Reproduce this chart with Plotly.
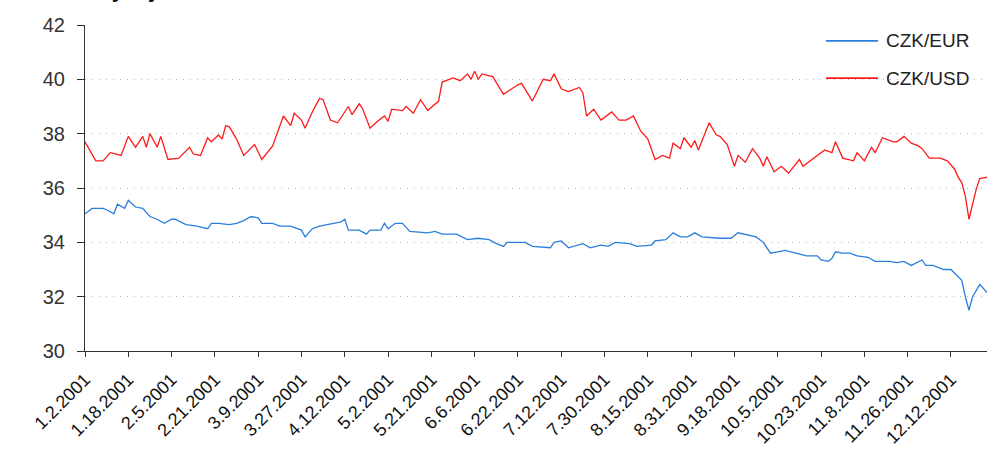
import plotly.graph_objects as go

# Trading-day index (0 = 1.2.2001) for each read point, and values
usd_idx = [0, 3, 5, 7, 10, 12, 14, 16, 17, 18, 20, 21, 23, 26, 29, 30, 32, 34, 35, 37, 38, 39, 40, 42, 44,
           47, 49, 52, 55, 57, 58, 60, 61, 63, 65, 66, 68, 70, 73, 74, 76, 77, 79, 81, 83, 84, 85, 88, 89,
           91, 93, 95, 98, 99, 102, 104, 106, 107, 108, 109, 110, 113, 116, 120, 121, 124, 127, 129, 130,
           132, 134, 137, 138, 139, 141, 143, 146, 148, 150, 152, 154, 156, 158, 160, 162, 163, 165, 166,
           168, 169, 170, 173, 175, 176, 178, 180, 181, 183, 185, 187, 188, 189, 191, 193, 195, 198, 199,
           202, 205, 207, 208, 210, 213, 214, 216, 218, 219, 221, 224, 225, 227, 229, 231, 232, 234, 237,
           239, 241, 242, 243, 244, 245, 246, 247, 248, 250]
usd_val = [37.7, 37.0, 37.0, 37.3, 37.2, 37.9, 37.5, 37.9, 37.5, 38.0, 37.5, 37.9, 37.05, 37.1, 37.5, 37.25,
           37.2, 37.85, 37.7, 37.95, 37.8, 38.3, 38.25, 37.8, 37.2, 37.6, 37.05, 37.55, 38.65, 38.3, 38.75,
           38.5, 38.2, 38.8, 39.3, 39.25, 38.5, 38.4, 39.0, 38.7, 39.1, 38.9, 38.2, 38.45, 38.65, 38.45,
           38.9, 38.85, 39.0, 38.75, 39.25, 38.85, 39.2, 39.9, 40.05, 39.95, 40.2, 40.0, 40.3, 40.0, 40.2,
           40.1, 39.45, 39.8, 39.85, 39.2, 40.0, 39.95, 40.2, 39.65, 39.55, 39.7, 39.5, 38.65, 38.9, 38.5,
           38.8, 38.5, 38.5, 38.65, 38.1, 37.8, 37.05, 37.2, 37.1, 37.65, 37.45, 37.85, 37.5, 37.75, 37.4,
           38.4, 37.95, 37.9, 37.6, 36.8, 37.2, 36.95, 37.45, 37.1, 36.8, 37.15, 36.6, 36.8, 36.55, 37.05,
           36.8, 37.1, 37.4, 37.3, 37.7, 37.1, 37.0, 37.3, 37.0, 37.5, 37.3, 37.85, 37.7, 37.7, 37.9,
           37.65, 37.55, 37.45, 37.1, 37.1, 37.0, 36.7, 36.4, 36.2, 35.7, 34.85, 35.4, 35.95, 36.35, 36.4]

eur_idx = [0, 2, 5, 6, 8, 9, 11, 12, 14, 16, 18, 20, 22, 24, 25, 28, 31, 34, 35, 37, 40, 42, 44, 46, 48,
           49, 52, 54, 57, 60, 61, 63, 65, 67, 69, 71, 72, 73, 76, 78, 79, 82, 83, 84, 86, 88, 90, 95, 97,
           99, 103, 106, 109, 112, 114, 116, 117, 120, 122, 124, 129, 130, 132, 134, 138, 140, 143, 145,
           147, 151, 153, 157, 158, 161, 163, 165, 167, 169, 171, 176, 179, 181, 183, 186, 188, 190, 192,
           194, 197, 200, 203, 204, 206, 207, 208, 210, 212, 214, 217, 219, 223, 225, 227, 229, 232, 233,
           235, 238, 240, 242, 243, 244, 245, 246, 248, 250]
eur_val = [35.05, 35.25, 35.25, 35.2, 35.05, 35.4, 35.25, 35.55, 35.3, 35.25, 34.95, 34.85, 34.7, 34.85,
           34.85, 34.65, 34.6, 34.5, 34.7, 34.7, 34.65, 34.7, 34.8, 34.95, 34.9, 34.7, 34.7, 34.6, 34.6,
           34.45, 34.2, 34.5, 34.6, 34.65, 34.7, 34.75, 34.85, 34.45, 34.45, 34.3, 34.45, 34.45, 34.7,
           34.5, 34.7, 34.7, 34.4, 34.35, 34.4, 34.3, 34.3, 34.1, 34.15, 34.1, 33.95, 33.85, 34.0, 34.0,
           34.0, 33.85, 33.8, 34.0, 34.05, 33.8, 33.95, 33.8, 33.9, 33.85, 34.0, 33.95, 33.85, 33.9, 34.05,
           34.1, 34.35, 34.2, 34.2, 34.35, 34.2, 34.15, 34.15, 34.35, 34.3, 34.2, 34.0, 33.6, 33.65, 33.7,
           33.6, 33.5, 33.5, 33.35, 33.3, 33.4, 33.65, 33.6, 33.6, 33.5, 33.45, 33.3, 33.3, 33.25, 33.3,
           33.15, 33.35, 33.15, 33.15, 33.0, 33.0, 32.75, 32.6, 32.0, 31.5, 32.0, 32.45, 32.15]

tick_idx = [0, 12, 24, 36, 48, 60, 72, 84, 96, 108, 120, 132, 144, 156, 168, 180, 192, 204, 216, 228, 240]
tick_text = ["1.2.2001", "1.18.2001", "2.5.2001", "2.21.2001", "3.9.2001", "3.27.2001", "4.12.2001",
             "5.2.2001", "5.21.2001", "6.6.2001", "6.22.2001", "7.12.2001", "7.30.2001", "8.15.2001",
             "8.31.2001", "9.18.2001", "10.5.2001", "10.23.2001", "11.8.2001", "11.26.2001", "12.12.2001"]

series_names = ["CZK/EUR", "CZK/USD"]
colors = ["#2a7fdc", "#ff1a1a"]

FONT = "Liberation Sans, Arial, sans-serif"

fig = go.Figure()
fig.add_trace(go.Scatter(x=eur_idx, y=eur_val, mode="lines", name=series_names[0],
                         line=dict(color=colors[0], width=1.3), showlegend=False))
fig.add_trace(go.Scatter(x=usd_idx, y=usd_val, mode="lines", name=series_names[1],
                         line=dict(color=colors[1], width=1.3), showlegend=False))

# custom legend
leg_y = [0.951, 0.837]
for name, col, ly in zip(series_names, colors, leg_y):
    fig.add_shape(type="line", xref="paper", yref="paper", x0=0.8215, x1=0.8792, y0=ly, y1=ly,
                  line=dict(color=col, width=1.8))
    fig.add_annotation(text=name, xref="paper", yref="paper", x=0.886, y=ly, xanchor="left",
                       yanchor="middle", showarrow=False, font=dict(family=FONT, size=19, color="#222"))

# title, clipped by the top edge as in the reference
fig.add_annotation(text="<b>Vývoj kurzu</b>", xref="paper", yref="paper", x=0.011, y=1.064,
                   xanchor="left", yanchor="bottom", showarrow=False,
                   font=dict(family=FONT, size=22, color="#111"))

fig.update_layout(
    width=987, height=464,
    margin=dict(l=85, r=0, t=25, b=113),
    paper_bgcolor="white", plot_bgcolor="white",
    font=dict(family=FONT, color="#222"),
    showlegend=False,
)
fig.update_xaxes(
    range=[0, 250], tickmode="array", tickvals=tick_idx, ticktext=tick_text,
    tickangle=-45, tickfont=dict(family=FONT, size=18, color="#111"), ticklabelstandoff=5,
    showgrid=False, zeroline=False, showline=True, linecolor="#333", linewidth=1,
    ticks="outside", ticklen=5, tickcolor="#333",
)
fig.update_yaxes(
    range=[30, 42], dtick=2, tickfont=dict(family=FONT, size=20, color="#333"),
    showgrid=True, gridcolor="#b4b4b4", griddash="1px,6px", gridwidth=1,
    zeroline=False, showline=True, linecolor="#333", linewidth=1,
    ticks="outside", ticklen=7, tickcolor="#333", ticklabelstandoff=8,
)

fig.write_html("out.html", config={"displayModeBar": False},
               post_script="document.body.style.margin='0';")
